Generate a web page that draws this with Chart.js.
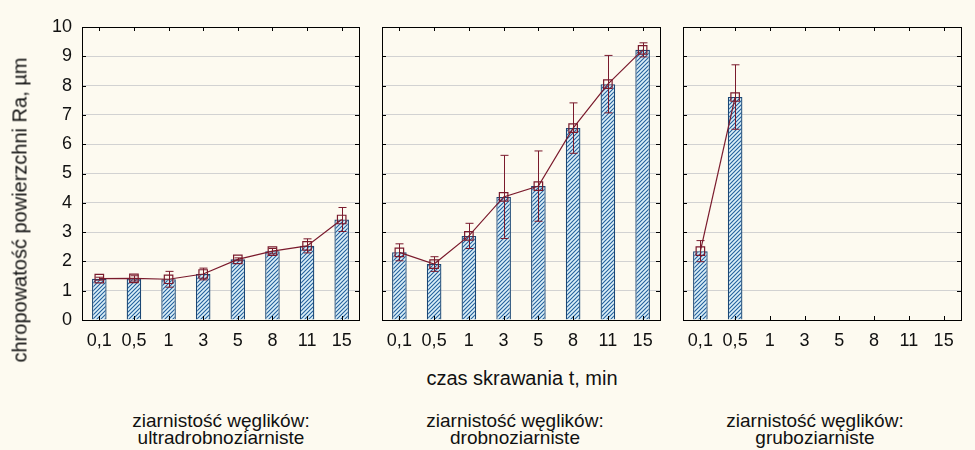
<!DOCTYPE html>
<html>
<head>
<meta charset="utf-8">
<script src="https://cdn.jsdelivr.net/npm/chart.js@4"></script>
<style>
body { margin: 0; background: #fdfaf0; font-family: "Liberation Sans", Arial, sans-serif; color: #111; }
#okvir { position: relative; width: 975px; height: 450px; overflow: hidden; }
canvas { position: absolute; top: 0; }
.tekst { position: absolute; white-space: nowrap; text-align: center; }
#osY { left: 20px; top: 210px; font-size: 20px; transform: translate(-50%, -50%) rotate(-90deg); }
#osX { left: 522px; top: 378px; font-size: 20px; transform: translate(-50%, -50%); }
.grupa { top: 412px; font-size: 19px; line-height: 17px; transform: translateX(-50%); }
</style>
</head>
<body>
<div id="okvir">
  <canvas id="panel1" width="370" height="360" style="left:0px"></canvas>
  <canvas id="panel2" width="300" height="360" style="left:370px"></canvas>
  <canvas id="panel3" width="305" height="360" style="left:670px"></canvas>
  <div class="tekst" id="osY">chropowatość powierzchni Ra, µm</div>
  <div class="tekst" id="osX">czas skrawania t, min</div>
  <div class="tekst grupa" style="left:221px">ziarnistość węglików:<br>ultradrobnoziarniste</div>
  <div class="tekst grupa" style="left:515px">ziarnistość węglików:<br>drobnoziarniste</div>
  <div class="tekst grupa" style="left:815px">ziarnistość węglików:<br>gruboziarniste</div>
</div>
<script>
// czas skrawania (min)
const czas = ['0,1', '0,5', '1', '3', '5', '8', '11', '15'];

// Ra srednje + greska, po ziarnistosci
const ultra = [1.41, 1.42, 1.39, 1.57, 2.07, 2.35, 2.53, 3.43];
const ultraErr = [0.05, 0.09, 0.27, 0.2, 0.05, 0.09, 0.24, 0.41];
const drobno = [2.31, 1.91, 2.87, 4.20, 4.57, 6.55, 8.05, 9.22];
const drobnoErr = [0.29, 0.25, 0.43, 1.42, 1.2, 0.86, 0.98, 0.24];
const grubo = [2.35, 7.61, null, null, null, null, null, null];
const gruboErr = [0.36, 1.1, null, null, null, null, null, null];

const yTicks = [0, 1, 2, 3, 4, 5, 6, 7, 8, 9, 10];

const bordo = '#7a1a2c';
const plava = '#1b4775';
const font = "'Liberation Sans', Arial, sans-serif";

function napraviSrafuru() {
    const c = document.createElement('canvas');
    c.width = 4;
    c.height = 4;
    const g = c.getContext('2d');
    g.fillStyle = '#dcf0f8';
    g.fillRect(0, 0, 4, 4);
    g.strokeStyle = '#225f9c';
    g.lineWidth = 1.1;
    g.beginPath();
    g.moveTo(0, 4); g.lineTo(4, 0);
    g.moveTo(-1, 1); g.lineTo(1, -1);
    g.moveTo(3, 5); g.lineTo(5, 3);
    g.stroke();
    return g.createPattern(c, 'repeat');
}

// okvir, unutrasnje crtice i greske
const okvirPlugin = {
    id: 'okvir',
    afterDatasetsDraw(chart) {
        const ctx = chart.ctx;
        const greske = chart.options.plugins.okvir.greske;
        const vrijednosti = chart.data.datasets[0].data;
        const x = chart.scales.x, y = chart.scales.y;
        ctx.save();
        ctx.strokeStyle = bordo;
        ctx.lineWidth = 1;
        vrijednosti.forEach((v, i) => {
            if (v === null || greske[i] === null) return;
            const px = Math.round(x.getPixelForValue(i)) + 0.5;
            const gore = y.getPixelForValue(v + greske[i]);
            const dole = y.getPixelForValue(v - greske[i]);
            ctx.beginPath();
            ctx.moveTo(px, gore); ctx.lineTo(px, dole);
            ctx.moveTo(px - 4, gore); ctx.lineTo(px + 4, gore);
            ctx.moveTo(px - 4, dole); ctx.lineTo(px + 4, dole);
            ctx.stroke();
        });
        ctx.restore();
    },
    afterDraw(chart) {
        const ctx = chart.ctx;
        const a = chart.chartArea;
        const x = chart.scales.x, y = chart.scales.y;
        ctx.save();
        ctx.strokeStyle = '#000';
        ctx.lineWidth = 1;
        ctx.strokeRect(Math.round(a.left) + 0.5, Math.round(a.top) + 0.5, Math.round(a.right - a.left), Math.round(a.bottom - a.top));
        ctx.beginPath();
        czas.forEach((c, i) => {
            const px = Math.round(x.getPixelForValue(i)) + 0.5;
            ctx.moveTo(px, a.top); ctx.lineTo(px, a.top + 4);
            ctx.moveTo(px, a.bottom); ctx.lineTo(px, a.bottom - 4);
        });
        yTicks.forEach(t => {
            const py = Math.round(y.getPixelForValue(t)) + 0.5;
            ctx.moveTo(a.left, py); ctx.lineTo(a.left + 4, py);
            ctx.moveTo(a.right, py); ctx.lineTo(a.right - 4, py);
        });
        ctx.stroke();
        ctx.restore();
    }
};

function nacrtajPanel(id, podaci, greske, sirinaY, desno, prikaziY) {
    return new Chart(document.getElementById(id), {
        data: {
            labels: czas,
            datasets: [{
                type: 'line',
                data: podaci,
                order: 0,
                borderColor: bordo,
                borderWidth: 1.2,
                tension: 0,
                spanGaps: false,
                pointStyle: 'rect',
                pointRadius: 6,
                pointBorderColor: bordo,
                pointBorderWidth: 1.2,
                pointBackgroundColor: 'rgba(0,0,0,0)'
            }, {
                type: 'bar',
                data: podaci,
                order: 1,
                backgroundColor: napraviSrafuru(),
                borderColor: plava,
                borderWidth: 1.3,
                barPercentage: 0.42,
                categoryPercentage: 1
            }]
        },
        options: {
            responsive: false,
            animation: false,
            layout: { padding: { top: 27, right: desno, left: 0, bottom: 0 } },
            plugins: {
                legend: { display: false },
                tooltip: { enabled: false },
                okvir: { greske: greske }
            },
            scales: {
                x: {
                    offset: true,
                    grid: { display: false, drawTicks: false },
                    border: { display: false },
                    ticks: { color: '#111', font: { family: font, size: 18 }, padding: 10, maxRotation: 0, autoSkip: false },
                    afterFit: s => { s.height = 40; }
                },
                y: {
                    min: 0,
                    max: 10,
                    grid: { color: '#d2d2d2', drawTicks: false },
                    border: { display: false },
                    ticks: {
                        display: prikaziY,
                        stepSize: 1,
                        color: '#111',
                        padding: 10,
                        font: { family: font, size: 18 }
                    },
                    afterFit: s => { s.width = sirinaY; }
                }
            }
        },
        plugins: [okvirPlugin]
    });
}

nacrtajPanel('panel1', ultra, ultraErr, 82, 11, true);
nacrtajPanel('panel2', drobno, drobnoErr, 12, 10, false);
nacrtajPanel('panel3', grubo, gruboErr, 13, 14, false);
</script>
</body>
</html>
